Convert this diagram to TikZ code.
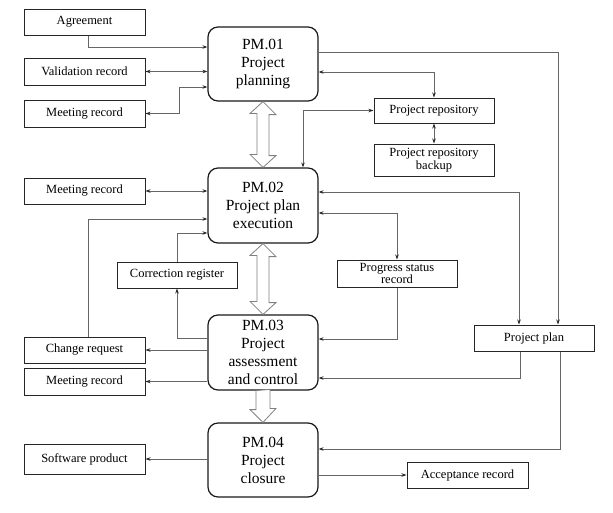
\documentclass[tikz,border=0pt]{standalone}
\usepackage{fontspec}
\setmainfont{Liberation Serif}
\usetikzlibrary{arrows.meta,calc}
\tikzset{
  proc/.style={draw=black!90, line width=1.2pt, rounded corners=10pt, minimum width=110pt, minimum height=74pt, align=center, inner sep=1pt, font=\fontsize{15.5}{18}\selectfont},
  doc/.style={draw=black!85, line width=1pt, minimum width=121pt, minimum height=26pt, align=center, inner sep=1pt, font=\fontsize{12.5}{12.5}\selectfont},
  conn/.style={draw=black!60, line width=0.8pt},
  arr/.style={conn, -{Stealth[length=5pt,width=3.5pt,black!85]}},
  darr/.style={conn, {Stealth[length=5pt,width=3.5pt,black!85]}-{Stealth[length=5pt,width=3.5pt,black!85]}},
  hollow/.style={draw=black!50, line width=0.8pt, fill=white, line join=miter}
}
\begin{document}
\begin{tikzpicture}[x=1pt,y=-1pt]
\useasboundingbox (0,0) rectangle (613,512);
% process boxes
\node[proc] (pm1) at (263,64) {PM.01\\Project\\planning};
\node[proc, minimum height=75pt] (pm2) at (263,205.5) {PM.02\\Project plan\\execution};
\node[proc, minimum height=75pt] (pm3) at (263,352.5) {PM.03\\Project\\assessment\\and control};
\node[proc] (pm4) at (263,460) {PM.04\\Project\\closure};
% documents
\node[doc] (agree) at (84.5,22) {Agreement};
\node[doc, minimum height=27pt] (val) at (84.5,71.5) {Validation record};
\node[doc, minimum height=27pt] (m1) at (84.5,113.5) {Meeting record};
\node[doc] (m2) at (84.5,191) {Meeting record};
\node[doc] (change) at (84.5,350) {Change request};
\node[doc, minimum height=27pt] (m3) at (84.5,381.5) {Meeting record};
\node[doc, minimum height=30pt] (sw) at (84.5,459) {Software product};
\node[doc, minimum width=120pt] (corr) at (177,275) {Correction register};
\node[doc, minimum width=120pt, minimum height=27pt, font=\fontsize{12.5}{12}\selectfont] (prog) at (397,273.5) {Progress status\\record};
\node[doc, minimum width=120pt, minimum height=25pt] (repo) at (434,110.5) {Project repository};
\node[doc, minimum width=120pt, minimum height=32pt, font=\fontsize{12.5}{13}\selectfont] (backup) at (434,160) {Project repository\\backup};
\node[doc, minimum width=120pt] (plan) at (534,338) {Project plan};
\node[doc] (acc) at (467.5,475) {Acceptance record};
% hollow arrows
\draw[hollow] (pm1.south) -- ++(13,13) -- ++(-7,0) -- ++(0,41) -- ++(7,0) -- (pm2.north)
  -- ++(-13,-13) -- ++(7,0) -- ++(0,-41) -- ++(-7,0) -- cycle;
\draw[hollow] (pm2.south) -- ++(13,13) -- ++(-7,0) -- ++(0,46) -- ++(7,0) -- (pm3.north)
  -- ++(-13,-13) -- ++(7,0) -- ++(0,-46) -- ++(-7,0) -- cycle;
\draw[hollow] ([xshift=-7pt]pm3.south) -- ++(0,19) -- ++(-6,0) -- (pm4.north) -- ++(13,-14) -- ++(-6,0) -- ++(0,-19) -- cycle;
% connectors
\draw[arr] ([xshift=3.5pt]agree.south) |- ([yshift=17pt]pm1.west);
\draw[darr] (val.east) -- (val.east -| pm1.west);
\draw[darr] (m1.east) -- ++(34,0) |- ([yshift=-23pt]pm1.west);
\draw[arr] ([yshift=12pt]pm1.east) -| ([xshift=24pt]plan.north);
\draw[darr] ([yshift=-8pt]pm1.east) -| (repo.north);
\draw[darr] (repo.south) -- (backup.north);
\draw[darr] (repo.west) -| ([xshift=40pt]pm2.north);
\draw[darr] (m2.east) -- (m2.east -| pm2.west);
\draw[arr] ([xshift=3.5pt]change.north) |- ([yshift=-13.5pt]pm2.west);
\draw[arr] (corr.north) |- ([yshift=-27.5pt]pm2.west);
\draw[arr] ([yshift=14.5pt]pm3.west) -| (corr.south);
\draw[darr] ([yshift=13.5pt]pm2.east) -| ([xshift=-15pt]plan.north);
\draw[darr] ([yshift=-7.5pt]pm2.east) -| (prog.north);
\draw[arr] (prog.south) |- ([yshift=13.5pt]pm3.east);
\draw[arr] ([xshift=-14pt]plan.south) |- ([yshift=-25.5pt]pm3.east);
\draw[arr] ([xshift=26pt]plan.south) |- ([yshift=11pt]pm4.east);
\draw[arr] (pm3.west |- change.east) -- (change.east);
\draw[arr] (pm3.west |- m3.east) -- (m3.east);
\draw[arr] (pm4.west |- sw.east) -- (sw.east);
\draw[arr] (pm4.east |- acc.west) -- (acc.west);
\end{tikzpicture}
\end{document}
